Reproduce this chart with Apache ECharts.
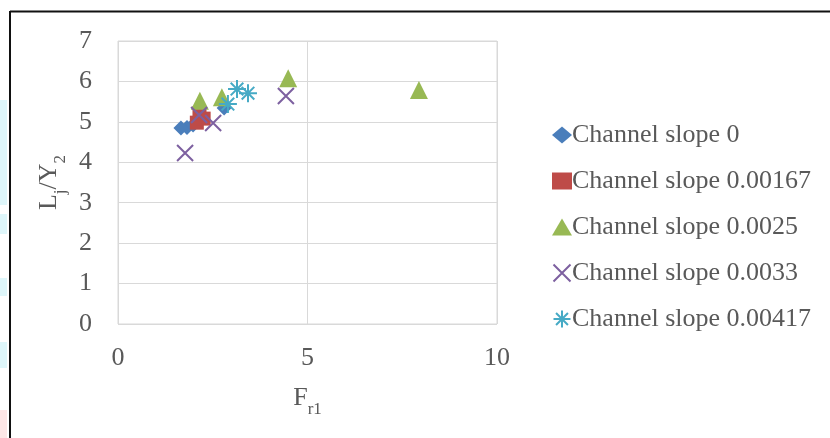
<!DOCTYPE html>
<html>
<head>
<meta charset="utf-8">
<script src="https://cdn.jsdelivr.net/npm/echarts@6/dist/echarts.min.js"></script>
<style>
  html, body { margin: 0; padding: 0; background: #fff; }
  #chart { width: 830px; height: 438px; }
</style>
</head>
<body>
<div id="chart"></div>
<script>
// Series names
const seriesNames = [
  'Channel slope 0',
  'Channel slope 0.00167',
  'Channel slope 0.0025',
  'Channel slope 0.0033',
  'Channel slope 0.00417'
];

// [Fr1, Lj/Y2] pairs per channel slope
const slope0 = [[1.66, 4.85], [1.82, 4.86], [1.98, 4.92], [2.80, 5.34]];
const slope00167 = [[2.08, 4.98], [2.15, 5.22], [2.26, 5.08]];
const slope0025 = [[2.16, 5.52], [2.74, 5.61], [4.49, 6.08], [7.94, 5.79]];
const slope0033 = [[1.77, 4.23], [2.14, 5.17], [2.51, 4.97], [4.43, 5.64]];
const slope00417 = [[2.90, 5.44], [3.14, 5.81], [3.43, 5.71]];

const xTicks = [0, 5, 10];
const yTicks = [0, 1, 2, 3, 4, 5, 6, 7];

const colors = ['#4a7ebb', '#be4b48', '#98b954', '#7d60a0', '#46aac5'];
const crossPath = 'path://M0,0L10,10M10,0L0,10';
const starPath = 'path://M5,0L5,10M0,5L10,5M1.5,1.5L8.5,8.5M8.5,1.5L1.5,8.5';

const chart = echarts.init(document.getElementById('chart'), null, { renderer: 'canvas' });

const font = '"Liberation Serif", "Times New Roman", serif';
const textColor = '#595959';
const fs = 26;

function pointSeries(name, data, symbol, size, color, lineMarker) {
  return {
    name: name,
    type: 'scatter',
    data: data,
    symbol: symbol,
    symbolSize: size,
    itemStyle: lineMarker
      ? { color: 'rgba(0,0,0,0)', borderColor: color, borderWidth: 2, opacity: 1 }
      : { color: color, opacity: 1 },
    z: 3
  };
}

const titleRich = {
  a: { fontSize: fs, fontFamily: font, color: textColor, verticalAlign: 'bottom' },
  s: { fontSize: 17, fontFamily: font, color: textColor, verticalAlign: 'bottom', padding: [0, 0, -7, 0] }
};

chart.setOption({
  animation: false,
  backgroundColor: '#ffffff',
  textStyle: { fontFamily: font },
  grid: {
    left: 118, top: 41, width: 379, height: 283,
    show: true, borderColor: '#d9d9d9', borderWidth: 1
  },
  xAxis: {
    type: 'value',
    min: xTicks[0], max: xTicks[xTicks.length - 1], interval: 5,
    axisLine: { show: false },
    axisTick: { show: false },
    splitLine: { show: true, lineStyle: { color: '#d9d9d9', width: 1 } },
    axisLabel: { color: textColor, fontSize: fs, fontFamily: font, margin: 21 },
    name: '{a|F}{s|r1}',
    nameLocation: 'middle',
    nameGap: 61,
    nameTextStyle: { rich: titleRich }
  },
  yAxis: {
    type: 'value',
    min: yTicks[0], max: yTicks[yTicks.length - 1], interval: 1,
    axisLine: { show: false },
    axisTick: { show: false },
    splitLine: { show: true, lineStyle: { color: '#d9d9d9', width: 1 } },
    axisLabel: { color: textColor, fontSize: fs, fontFamily: font, margin: 26 },
    name: '{a|L}{s|j}{a|/Y}{s|2}',
    nameLocation: 'middle',
    nameGap: 56,
    nameRotate: 90,
    nameTextStyle: { rich: titleRich }
  },
  legend: {
    orient: 'vertical',
    left: 547, top: 117,
    itemGap: 20,
    itemWidth: 20, itemHeight: 17,
    textStyle: { color: textColor, fontSize: fs, fontFamily: font, lineHeight: 26, padding: [0, 0, 0, -5] },
    data: seriesNames
  },
  series: [
    pointSeries(seriesNames[0], slope0, 'diamond', 15, colors[0], false),
    pointSeries(seriesNames[1], slope00167, 'rect', 14, colors[1], false),
    pointSeries(seriesNames[2], slope0025, 'triangle', 18, colors[2], false),
    pointSeries(seriesNames[3], slope0033, crossPath, 16, colors[3], true),
    pointSeries(seriesNames[4], slope00417, starPath, 18, colors[4], true)
  ],
  graphic: [
    // outer frame
    { type: 'line', shape: { x1: 10, y1: 11.5, x2: 830, y2: 11.5 }, style: { stroke: '#111', lineWidth: 2 } },
    { type: 'line', shape: { x1: 10, y1: 11, x2: 10, y2: 438 }, style: { stroke: '#111', lineWidth: 2 } },
    // pale strips along the left margin
    { type: 'rect', shape: { x: 0, y: 100, width: 7, height: 105 }, style: { fill: '#def6fa' } },
    { type: 'rect', shape: { x: 0, y: 214, width: 7, height: 20 }, style: { fill: '#def6fa' } },
    { type: 'rect', shape: { x: 0, y: 278, width: 7, height: 18 }, style: { fill: '#def6fa' } },
    { type: 'rect', shape: { x: 0, y: 342, width: 7, height: 26 }, style: { fill: '#def6fa' } },
    { type: 'rect', shape: { x: 0, y: 410, width: 7, height: 28 }, style: { fill: '#fde6e6' } }
  ]
});
</script>
</body>
</html>
